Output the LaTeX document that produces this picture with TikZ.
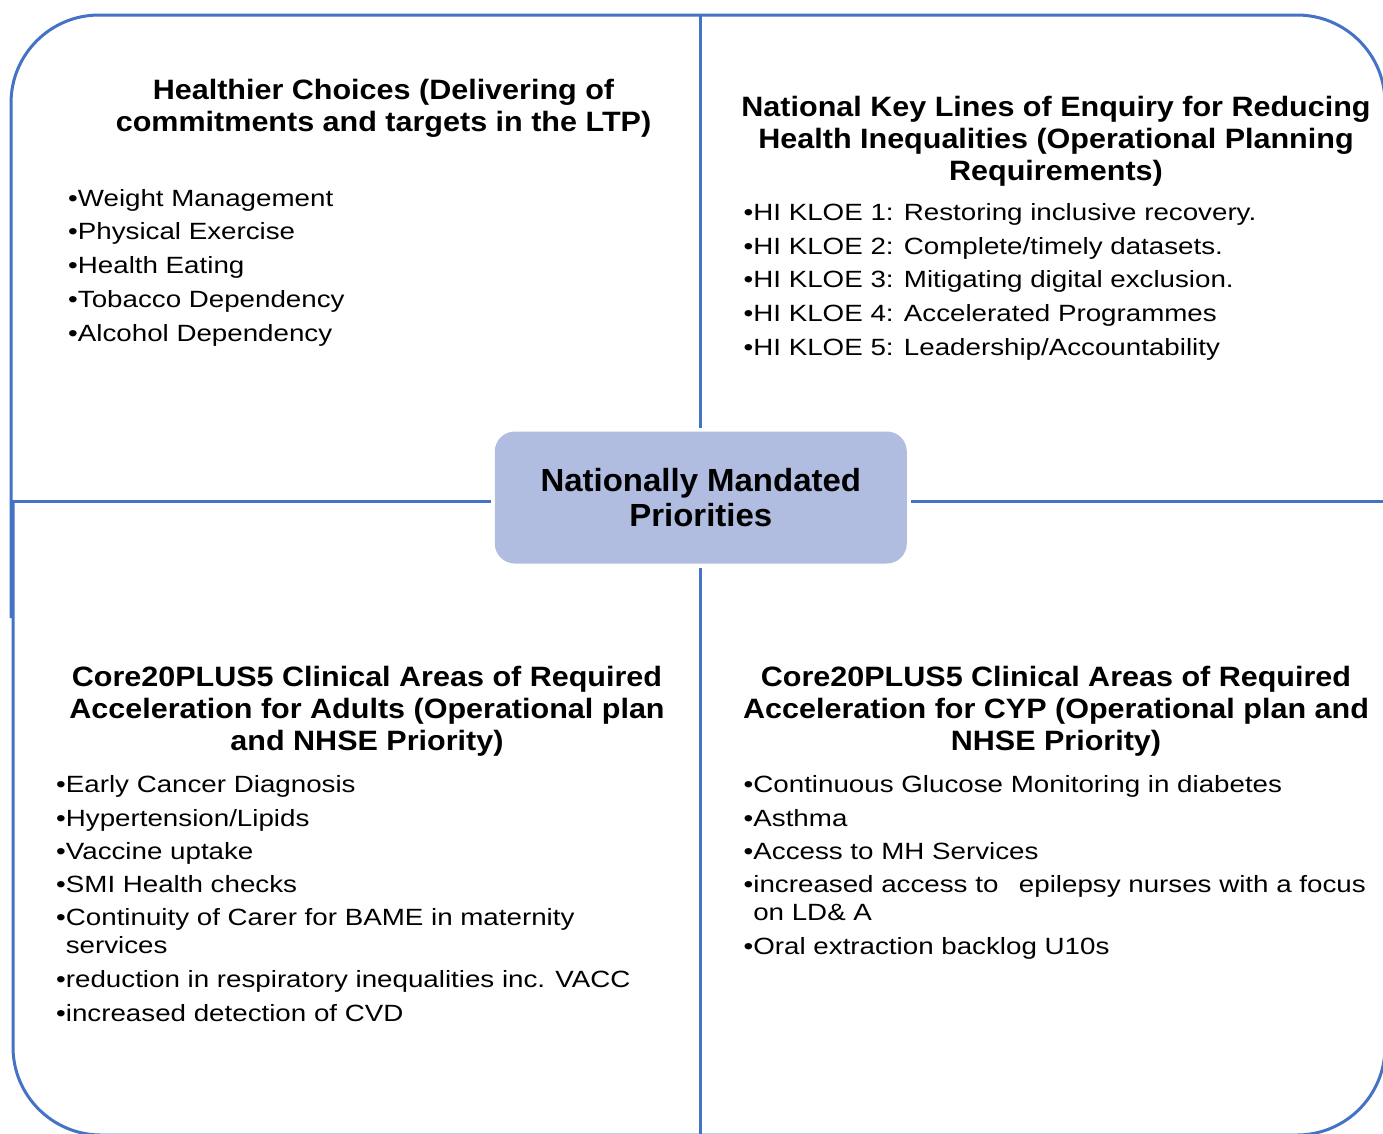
\documentclass[tikz,border=0pt]{standalone}
\usepackage{fontspec}
\setmainfont{Liberation Sans}
\newfontfamily\bodyfont{Liberation Sans}[FakeStretch=1.18]
\newfontfamily\headfont{Liberation Sans}[FakeStretch=1.09]
\newfontfamily\hubfont{Liberation Sans}[FakeStretch=1.03]
\definecolor{frameblue}{HTML}{4472C4}
\definecolor{hubfill}{HTML}{B0BCE0}
\begin{document}
\begin{tikzpicture}[x=1pt,y=-1pt,
  frame/.style={draw=frameblue, line width=3pt},
  hub/.style={fill=hubfill, rounded corners=20pt, minimum width=412pt,
    minimum height=132pt, outer sep=4pt, align=center,
    font=\hubfont\bfseries\fontsize{32}{35}\selectfont},
  head/.style={anchor=north, align=center, inner sep=0pt,
    font=\headfont\bfseries\fontsize{28}{32}\selectfont},
  item/.style={anchor=base west, inner sep=0pt,
    font=\bodyfont\fontsize{23.5}{28}\selectfont}]
\useasboundingbox (0,0) rectangle (1383,1133);
\clip (0,0) rectangle (1383,1133);

% outer rounded frame (runs past the right and bottom edges)
\draw[frame, rounded corners=88pt]
  (11,618) -- (11,15) -- (1385,15) -- (1385,1135) -- (13,1135) -- (13,500);

% ends of the dividing lines on the frame
\coordinate (topmid) at (700.5,15);
\coordinate (botmid) at (700.5,1135);
\coordinate (leftmid) at (12,501.5);
\coordinate (rightmid) at (1385,501.5);

% central hub
\node[hub] (hub) at (700.8,497.5) {Nationally Mandated\\Priorities};

% dividers from the hub to the frame
\draw[frame] (hub.north -| topmid) -- (topmid);
\draw[frame] (hub.south -| botmid) -- (botmid);
\draw[frame] (hub.west |- leftmid) -- (leftmid);
\draw[frame] (hub.east |- rightmid) -- (rightmid);

% quadrant headings
\node[head] (tlh) at (383.5,78.9) {Healthier Choices (Delivering of\\commitments and targets in the LTP)};
\node[head] (trh) at (1056,96.1) {National Key Lines of Enquiry for Reducing\\Health Inequalities (Operational Planning\\Requirements)};
\node[head] (blh) at (367,666.1) {Core20PLUS5 Clinical Areas of Required\\Acceleration for Adults (Operational plan\\and NHSE Priority)};
\node[head] (brh) at (1056,666.1) {Core20PLUS5 Clinical Areas of Required\\Acceleration for CYP (Operational plan and\\NHSE Priority)};

% top-left list
\node[item] (tl1) at (68,206)   {•Weight Management};
\node[item] (tl2) at (68,239.8) {•Physical Exercise};
\node[item] (tl3) at (68,273.6) {•Health Eating};
\node[item] (tl4) at (68,307.4) {•Tobacco Dependency};
\node[item] (tl5) at (68,341.2) {•Alcohol Dependency};

% top-right list
\node[item] (tr1) at (743.5,220.7) {•HI KLOE 1: Restoring inclusive recovery.};
\node[item] (tr2) at (743.5,254.3) {•HI KLOE 2: Complete/timely datasets.};
\node[item] (tr3) at (743.5,287.9) {•HI KLOE 3: Mitigating digital exclusion.};
\node[item] (tr4) at (743.5,321.5) {•HI KLOE 4: Accelerated Programmes};
\node[item] (tr5) at (743.5,355.1) {•HI KLOE 5: Leadership/Accountability};

% bottom-left list
\node[item] (bl1) at (56,792.7) {•Early Cancer Diagnosis};
\node[item] (bl2) at (56,826)   {•Hypertension/Lipids};
\node[item] (bl3) at (56,859.3) {•Vaccine uptake};
\node[item] (bl4) at (56,892.6) {•SMI Health checks};
\node[item] (bl5) at (56,925.9) {•Continuity of Carer for BAME in maternity};
\node[item] (bl5b) at (65.6,953.6) {services};
\node[item] (bl6) at (56,987.5) {•reduction in respiratory inequalities inc. VACC};
\node[item] (bl7) at (56,1021)  {•increased detection of CVD};

% bottom-right list
\node[item] (br1) at (743.5,792.7) {•Continuous Glucose Monitoring in diabetes};
\node[item] (br2) at (743.5,826)   {•Asthma};
\node[item] (br3) at (743.5,859.3) {•Access to MH Services};
\node[item] (br4) at (743.5,892.6) {•increased access to\hspace{20.5pt}epilepsy nurses with a focus};
\node[item] (br4b) at (753.1,920.5) {on LD\& A};
\node[item] (br5) at (743.5,954.5) {•Oral extraction backlog U10s};
\end{tikzpicture}
\end{document}
